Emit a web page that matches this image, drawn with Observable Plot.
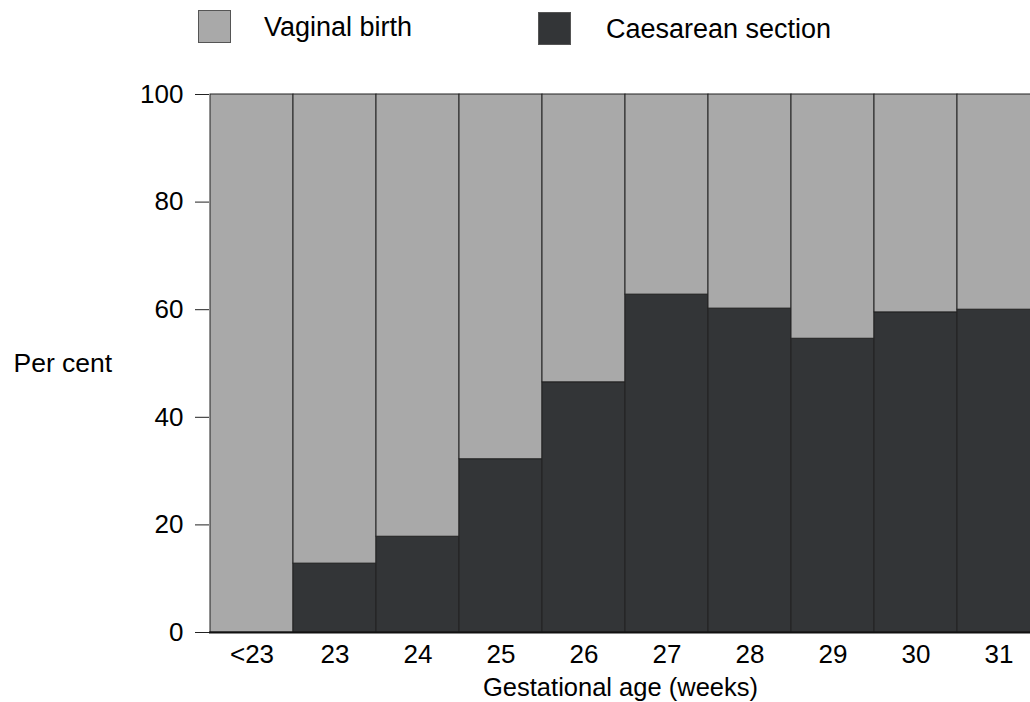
<!DOCTYPE html>
<html>
<head>
<meta charset="utf-8">
<script src="https://cdn.jsdelivr.net/npm/d3@7"></script>
<script src="https://cdn.jsdelivr.net/npm/@observablehq/plot@0.6"></script>
<style>
  html, body { margin: 0; padding: 0; background: #fff; overflow: hidden; width: 1030px; height: 702px; }
  #legend { position: relative; height: 60px; width: 1030px; font-family: "Liberation Sans", Arial, sans-serif; font-size: 27px; color: #000; }
  .sw { position: absolute; width: 31px; height: 31px; border: 1px solid #555; }
  .lt { position: absolute; height: 33px; line-height: 33px; white-space: nowrap; }
</style>
</head>
<body>
<div id="legend"></div>
<div id="chart"></div>
<script>
const categories = ["<23", "23", "24", "25", "26", "27", "28", "29", "30", "31"];
const caesarean = [0, 12.8, 17.8, 32.2, 46.5, 62.8, 60.2, 54.6, 59.5, 60.0];
const seriesNames = ["Vaginal birth", "Caesarean section"];
const seriesColors = ["#a9a9a9", "#333537"];
const yTicks = [0, 20, 40, 60, 80, 100];

const data = [];
categories.forEach((c, i) => {
  data.push({age: c, type: "Caesarean section", value: caesarean[i]});
  data.push({age: c, type: "Vaginal birth", value: 100 - caesarean[i]});
});

// legend
const legend = document.getElementById("legend");
const legendPos = [{sx: 198, sy: 10, tx: 264}, {sx: 538, sy: 12, tx: 606}];
seriesNames.forEach((name, i) => {
  const p = legendPos[i];
  const sw = document.createElement("div");
  sw.className = "sw";
  sw.style.left = p.sx + "px"; sw.style.top = p.sy + "px";
  sw.style.background = seriesColors[i];
  legend.appendChild(sw);
  const t = document.createElement("div");
  t.className = "lt";
  t.style.left = p.tx + "px"; t.style.top = (p.sy + 1) + "px";
  t.textContent = name;
  legend.appendChild(t);
});

const chart = Plot.plot({
  width: 1041,
  height: 642,
  marginLeft: 209,
  marginRight: 0,
  marginTop: 34,
  marginBottom: 70,
  style: "max-width:none; overflow:visible; font-family:'Liberation Sans', Arial, sans-serif; color:#000; background:#fff;",
  x: {type: "band", domain: categories, padding: 0},
  y: {domain: [0, 100]},
  color: {domain: seriesNames, range: seriesColors},
  marks: [
    Plot.barY(data, Plot.stackY({
      x: "age", y: "value", fill: "type",
      order: ["Caesarean section", "Vaginal birth"],
      stroke: "#222", strokeWidth: 1, inset: 0
    })),
    Plot.ruleY([0], {stroke: "#111", strokeWidth: 2}),
    Plot.axisY({ticks: yTicks, tickSize: 14, tickPadding: 12, fontSize: 26, label: null, stroke: "#222"}),
    Plot.axisX({tickSize: 0, tickPadding: 12, fontSize: 26, label: null}),
    Plot.text(["Gestational age (weeks)"], {frameAnchor: "bottom", dy: 55, dx: -5, lineAnchor: "middle", fontSize: 25.5, fill: "#000"}),
    Plot.text(["Per cent"], {frameAnchor: "left", dx: -196, textAnchor: "start", lineAnchor: "middle", fontSize: 26.5, fill: "#000"})
  ]
});
document.getElementById("chart").appendChild(chart);
</script>
</body>
</html>
